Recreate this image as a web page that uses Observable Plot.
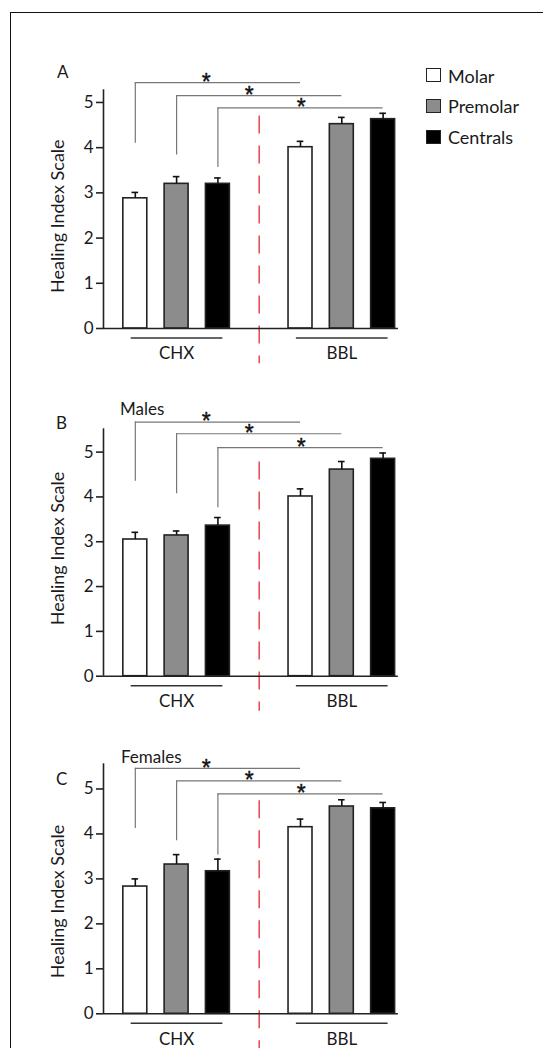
<!DOCTYPE html>
<html>
<head>
<meta charset="utf-8">
<script src="https://cdn.jsdelivr.net/npm/d3@7"></script>
<script src="https://cdn.jsdelivr.net/npm/@observablehq/plot@0.6"></script>
<style>
  body { margin: 0; background: #fff; font-family: Lato, "Open Sans", sans-serif; color: #1a1a1a; }
  #page { position: relative; width: 543px; height: 1048px; overflow: hidden; }
  .frame { position: absolute; left: 10px; top: 12px; right: -5px; bottom: -5px; border-top: 1.6px solid #111; border-left: 1.6px solid #111; }
  .panel { position: absolute; left: 0; }
  .panel svg { display: block; }
  .txt { position: absolute; font-size: 17px; line-height: 1; white-space: nowrap; }
  .lg-box { position: absolute; left: 426px; width: 13px; height: 12px; border: 1.6px solid #222; }
  .lg-txt { position: absolute; left: 448px; font-size: 18px; line-height: 1; }
</style>
</head>
<body>
<div id="page">
  <div class="frame"></div>
  <div id="pA" class="panel" style="top:0px"></div>
  <div id="pB" class="panel" style="top:375px"></div>
  <div id="pC" class="panel" style="top:712px"></div>
  <div class="txt" style="left:57px; top:63px;">A</div>
  <div class="txt" style="left:56px; top:414px;">B</div>
  <div class="txt" style="left:120px; top:400px;">Males</div>
  <div class="txt" style="left:56px; top:770px;">C</div>
  <div class="txt" style="left:121px; top:748px;">Females</div>
  <div id="legend"></div>
</div>
<script>
// ---- data ----
const categories = ["Molar", "Premolar", "Centrals"];
const groups = ["CHX", "BBL"];
const yTicks = [0, 1, 2, 3, 4, 5];
const yLabel = "Healing Index Scale";
const barColors = ["#ffffff", "#8c8c8c", "#000000"];

// Panel A (all)
const aChx = [2.88, 3.20, 3.20];
const aBbl = [4.01, 4.52, 4.63];
const aChxSem = [0.13, 0.16, 0.13];
const aBblSem = [0.13, 0.15, 0.13];
const aBracketTop = [5.44, 5.15, 4.88];
const aBracketFoot = [4.10, 3.84, 3.56];

// Panel B (Males)
const bChx = [3.05, 3.14, 3.36];
const bBbl = [4.01, 4.61, 4.85];
const bChxSem = [0.16, 0.10, 0.18];
const bBblSem = [0.17, 0.18, 0.13];
const bBracketTop = [5.67, 5.41, 5.10];
const bBracketFoot = [4.35, 4.07, 3.76];

// Panel C (Females)
const cChx = [2.83, 3.32, 3.17];
const cBbl = [4.15, 4.61, 4.57];
const cChxSem = [0.17, 0.22, 0.27];
const cBblSem = [0.18, 0.15, 0.13];
const cBracketTop = [5.46, 5.18, 4.89];
const cBracketFoot = [4.12, 3.85, 3.53];

const starSlot = [1.72, 2.76, 4.02];
const significance = ["*", "*", "*"];

// ---- chart ----
const xDomain = [-0.77, 6.37];
const halfBar = 0.29;
const capHalf = 0.08;
const dividerSlot = 3;

function panel(el, cfg) {
  const rows = [];
  groups.forEach((g, gi) => categories.forEach((c, ci) => {
    const m = gi === 0 ? cfg.chx[ci] : cfg.bbl[ci];
    const s = gi === 0 ? cfg.chxSem[ci] : cfg.bblSem[ci];
    rows.push({group: g, cat: c, slot: gi * 4 + ci, mean: m, top: m + s});
  }));
  const brackets = categories.map((c, i) => ({
    from: i, to: 4 + i, level: cfg.bTop[i], foot: cfg.bFoot[i], star: starSlot[i], label: significance[i]
  }));
  const groupRows = groups.map((g, gi) => ({name: g, x1: gi * 4 - 0.1, x2: gi * 4 + 2.12, cx: gi * 4 + 1}));
  const plot = Plot.plot({
    width: 543,
    height: cfg.height,
    marginLeft: 103,
    marginRight: 543 - 397.9,
    marginTop: cfg.mt,
    marginBottom: cfg.mb,
    x: {type: "linear", domain: xDomain, axis: null},
    y: {domain: [0, cfg.ymax], axis: null},
    color: {domain: categories, range: barColors},
    style: {fontFamily: "Lato, 'Open Sans', sans-serif", fontSize: "16px", color: "#1a1a1a", background: "transparent", overflow: "visible"},
    marks: [
      // divider
      Plot.ruleX([dividerSlot], {y1: cfg.divTop, y2: cfg.divBottom, stroke: "#e4525a", strokeWidth: 1.6, strokeDasharray: "18,12"}),
      // axes
      Plot.axisY({ticks: yTicks, tickFormat: d3.format("d"), tickSize: 7, tickPadding: 3, label: null, fontSize: 17, stroke: "#222", strokeWidth: 1.6}),
      Plot.ruleX([xDomain[0]], {y1: 0, y2: cfg.ymax, stroke: "#222", strokeWidth: 1.6}),
      // bars
      Plot.rect(rows, {x1: d => d.slot - halfBar, x2: d => d.slot + halfBar, y1: 0, y2: "mean", fill: "cat", stroke: "#222", strokeWidth: 1.6}),
      // error bars
      Plot.ruleX(rows, {x: "slot", y1: "mean", y2: "top", stroke: "#111", strokeWidth: 1.6}),
      Plot.ruleY(rows, {y: "top", x1: d => d.slot - capHalf, x2: d => d.slot + capHalf, stroke: "#111", strokeWidth: 1.6}),
      Plot.ruleY([0], {stroke: "#222", strokeWidth: 1.6}),
      // brackets
      Plot.ruleX(brackets, {x: "from", y1: "foot", y2: "level", stroke: "#777", strokeWidth: 1.2}),
      Plot.ruleY(brackets, {y: "level", x1: "from", x2: "to", stroke: "#777", strokeWidth: 1.2}),
      Plot.text(brackets, {x: "star", y: "level", text: "label", fontSize: 23, fontFamily: "'Liberation Sans', Arial, sans-serif", lineAnchor: "middle", fill: "#111", stroke: "#111", strokeWidth: 0.4}),
      // group underlines and labels
      Plot.ruleY(groupRows, {y: 0, x1: "x1", x2: "x2", dy: 9.5, stroke: "#333", strokeWidth: 1.4}),
      Plot.text(groupRows, {x: "cx", y: 0, text: "name", dy: 25.5, lineAnchor: "middle", fontSize: 17, fill: "#1a1a1a"}),
      // y label
      Plot.text([yLabel], {frameAnchor: "left", textAnchor: "middle", rotate: -90, dx: -45, dy: cfg.labelDy, fontSize: 18, fill: "#1a1a1a", lineAnchor: "middle"})
    ]
  });
  document.getElementById(el).appendChild(plot);
}

panel("pA", {chx: aChx, bbl: aBbl, chxSem: aChxSem, bblSem: aBblSem, bTop: aBracketTop, bFoot: aBracketFoot,
  height: 375, mt: 89.3, mb: 47, ymax: 5.28, divTop: 4.70, divBottom: -0.78, labelDy: 7});
panel("pB", {chx: bChx, bbl: bBbl, chxSem: bChxSem, bblSem: bBblSem, bTop: bBracketTop, bFoot: bBracketFoot,
  height: 337, mt: 53.3, mb: 36.3, ymax: 5.52, divTop: 4.78, divBottom: -0.78, labelDy: -4});
panel("pC", {chx: cChx, bbl: cBbl, chxSem: cChxSem, bblSem: cBblSem, bTop: cBracketTop, bFoot: cBracketFoot,
  height: 336, mt: 51.3, mb: 34.7, ymax: 5.56, divTop: 4.74, divBottom: -0.78, labelDy: 12.7});

// legend
const legend = document.getElementById("legend");
const legendTops = [68, 98.5, 129.5];
categories.forEach((c, i) => {
  const box = document.createElement("div");
  box.className = "lg-box";
  box.style.top = legendTops[i] + "px";
  box.style.background = barColors[i];
  legend.appendChild(box);
  const t = document.createElement("div");
  t.className = "lg-txt";
  t.style.top = (legendTops[i] - 1.5) + "px";
  t.textContent = c;
  legend.appendChild(t);
});
</script>
</body>
</html>
